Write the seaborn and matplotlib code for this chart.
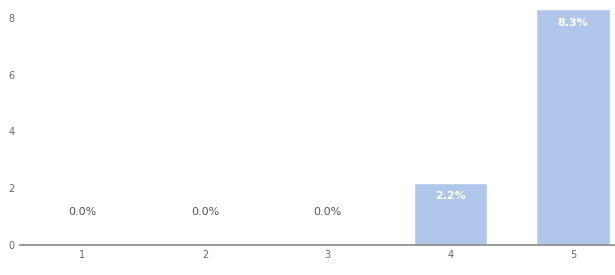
import matplotlib
matplotlib.use("Agg")
import matplotlib.pyplot as plt
import seaborn as sns
import pandas as pd

categories = ["1", "2", "3", "4", "5"]
values = [0.0, 0.0, 0.0, 2.2, 8.3]
labels = ["0.0%", "0.0%", "0.0%", "2.2%", "8.3%"]
yticks = [0, 2, 4, 6, 8]

sns.set_theme(style="white")
plt.rcParams['font.family'] = ['DejaVu Sans']

df = pd.DataFrame({"cat": categories, "val": values})

fig = plt.figure(figsize=(6.15, 2.75), dpi=100)
ax = fig.add_axes([0.033, 0.109, 0.967, 0.891])
sns.barplot(data=df, x="cat", y="val", color="#b0c6ea", saturation=1, width=0.6, ax=ax)

ax.set_xlim(-0.505, 4.342)
ax.set_ylim(0, 8.63)
ax.set_yticks(yticks)
ax.set_xlabel("")
ax.set_ylabel("")
for s in ["top", "right", "left"]:
    ax.spines[s].set_visible(False)
ax.spines["bottom"].set_color("#888888")
ax.spines["bottom"].set_linewidth(1.2)
ax.tick_params(axis="both", colors="#666666", labelsize=7, length=0)
ax.tick_params(axis="y", pad=4)

for i, (v, lab) in enumerate(zip(values, labels)):
    if v > 0.5:
        ax.annotate(lab, (i, v), xytext=(0, -10), textcoords="offset points",
                    ha="center", va="center", color="white", fontsize=8, fontweight="bold")
    else:
        ax.annotate(lab, (i, v), xytext=(0, 24), textcoords="offset points",
                    ha="center", va="center", color="#555555", fontsize=8)

fig.savefig("out.png", dpi=100)
